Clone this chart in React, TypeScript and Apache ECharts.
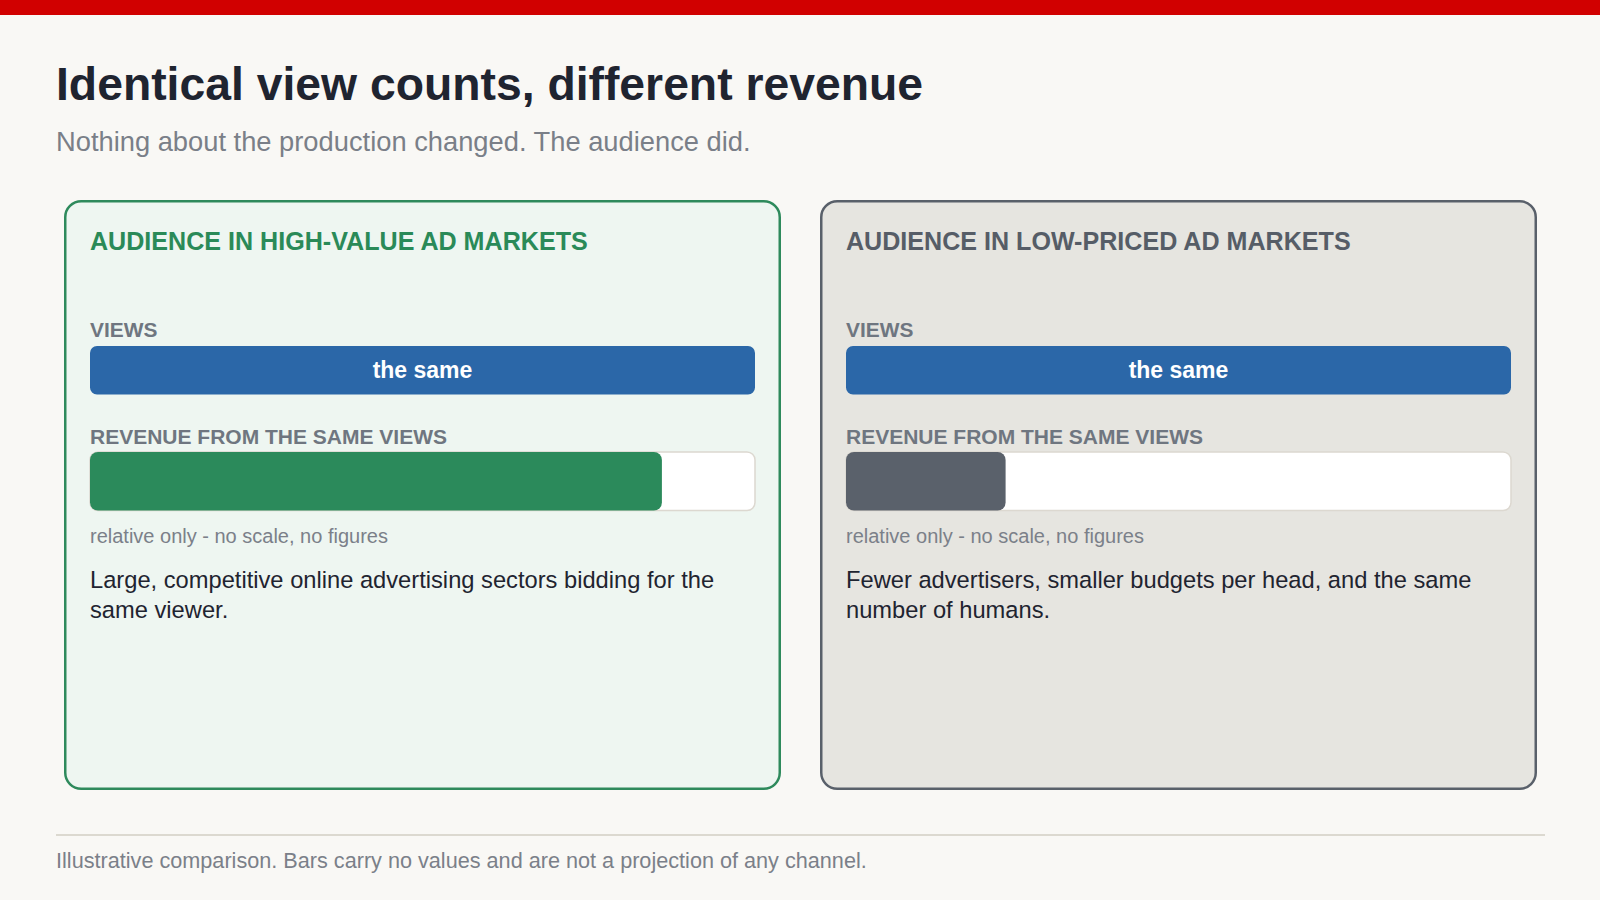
import React, { useEffect, useRef } from "react";
import * as echarts from "echarts";

const TITLE = "Identical view counts, different revenue";
const SUBTITLE = "Nothing about the production changed. The audience did.";
const FOOTER = "Illustrative comparison. Bars carry no values and are not a projection of any channel.";

const markets = ["AUDIENCE IN HIGH-VALUE AD MARKETS", "AUDIENCE IN LOW-PRICED AD MARKETS"];
const viewsLabel = "VIEWS";
const revenueLabel = "REVENUE FROM THE SAME VIEWS";
const viewsValues = [1, 1];
const viewsTexts = ["the same", "the same"];
const revenueValues = [0.86, 0.24];
const scaleNotes = ["relative only - no scale, no figures", "relative only - no scale, no figures"];
const descriptions = [
  "Large, competitive online advertising sectors bidding for the\nsame viewer.",
  "Fewer advertisers, smaller budgets per head, and the same\nnumber of humans.",
];

const FONT = "'Liberation Sans', Arial, Helvetica, sans-serif";

const cardStyles = [
  { fill: "#eef6f1", stroke: "#2e8a5c", heading: "#2a8a58", bar: "#2b8a5b" },
  { fill: "#e6e5e0", stroke: "#59606a", heading: "#565d67", bar: "#5a616b" },
];

export default function App() {
  const ref = useRef<HTMLDivElement>(null);

  useEffect(() => {
    if (!ref.current) return;
    const chart = echarts.init(ref.current, undefined, { renderer: "svg" });

    const cardX = [64, 820];
    const cardW = 717;
    const pad = 26;
    const innerW = 665;

    const grids: any[] = [];
    const xAxes: any[] = [];
    const yAxes: any[] = [];
    const series: any[] = [];
    const graphics: any[] = [];

    graphics.push({ type: "rect", shape: { x: 0, y: 0, width: 1600, height: 15 }, style: { fill: "#d10000" } });
    graphics.push({
      type: "text", x: 56, y: 84,
      style: { text: TITLE, fill: "#1f2430", font: `bold 46.3px ${FONT}`, verticalAlign: "middle" },
    });
    graphics.push({
      type: "text", x: 56, y: 141.6,
      style: { text: SUBTITLE, fill: "#7a7f88", font: `27.3px ${FONT}`, verticalAlign: "middle" },
    });

    markets.forEach((m, i) => {
      const cs = cardStyles[i];
      const left = cardX[i] + pad;
      graphics.push({
        type: "rect",
        shape: { x: cardX[i] + 1.25, y: 201.25, width: cardW - 2.5, height: 587.5, r: 16 },
        style: { fill: cs.fill, stroke: cs.stroke, lineWidth: 2.5 },
      });
      graphics.push({
        type: "text", x: left, y: 240.6,
        style: { text: m, fill: cs.heading, font: `bold 25.1px ${FONT}`, verticalAlign: "middle" },
      });
      graphics.push({
        type: "text", x: left, y: 329.6,
        style: { text: viewsLabel, fill: "#6f7680", font: `bold 20.9px ${FONT}`, verticalAlign: "middle" },
      });
      graphics.push({
        type: "text", x: left, y: 436.9,
        style: { text: revenueLabel, fill: "#6f7680", font: `bold 21px ${FONT}`, verticalAlign: "middle" },
      });
      graphics.push({
        type: "text", x: left, y: 535.8,
        style: { text: scaleNotes[i], fill: "#7b8089", font: `20px ${FONT}`, verticalAlign: "middle" },
      });
      graphics.push({
        type: "text", x: left, y: 565,
        style: {
          text: descriptions[i], fill: "#1f2430", font: `23.7px ${FONT}`,
          lineHeight: 30, verticalAlign: "top",
        },
      });

      const gV = grids.length;
      grids.push({ left, top: 346, width: innerW, height: 48.5 });
      xAxes.push({ gridIndex: gV, type: "value", min: 0, max: 1, show: false });
      yAxes.push({ gridIndex: gV, type: "category", data: [viewsLabel], show: false });
      series.push({
        type: "bar", xAxisIndex: gV, yAxisIndex: gV, barWidth: "100%",
        data: [viewsValues[i]],
        itemStyle: { color: "#2b67a8", borderRadius: 7 },
        label: {
          show: true, position: "inside", formatter: () => viewsTexts[i],
          color: "#ffffff", fontFamily: FONT, fontWeight: "bold", fontSize: 23,
        },
        silent: true,
      });

      const gR = grids.length;
      grids.push({ left, top: 452, width: innerW, height: 58.5 });
      xAxes.push({ gridIndex: gR, type: "value", min: 0, max: 1, show: false });
      yAxes.push({ gridIndex: gR, type: "category", data: [revenueLabel], show: false });
      series.push({
        type: "bar", xAxisIndex: gR, yAxisIndex: gR, barWidth: "100%",
        data: [revenueValues[i]],
        showBackground: true,
        backgroundStyle: { color: "#ffffff", borderColor: "#dcd8d0", borderWidth: 1.5, borderRadius: 8 },
        itemStyle: { color: cs.bar, borderRadius: 8 },
        silent: true,
      });
    });

    graphics.push({
      type: "line", shape: { x1: 56, y1: 835, x2: 1545, y2: 835 },
      style: { stroke: "#dcd9d0", lineWidth: 1.8 },
    });
    graphics.push({
      type: "text", x: 56, y: 860.5,
      style: { text: FOOTER, fill: "#7b8089", font: `21.65px ${FONT}`, verticalAlign: "middle" },
    });

    chart.setOption({
      animation: false,
      backgroundColor: "#f9f8f5",
      grid: grids,
      xAxis: xAxes,
      yAxis: yAxes,
      series,
      graphic: { elements: graphics },
    });

    return () => chart.dispose();
  }, []);

  return (
    <div
      ref={ref}
      style={{ position: "fixed", left: 0, top: 0, width: 1600, height: 900 }}
    />
  );
}
